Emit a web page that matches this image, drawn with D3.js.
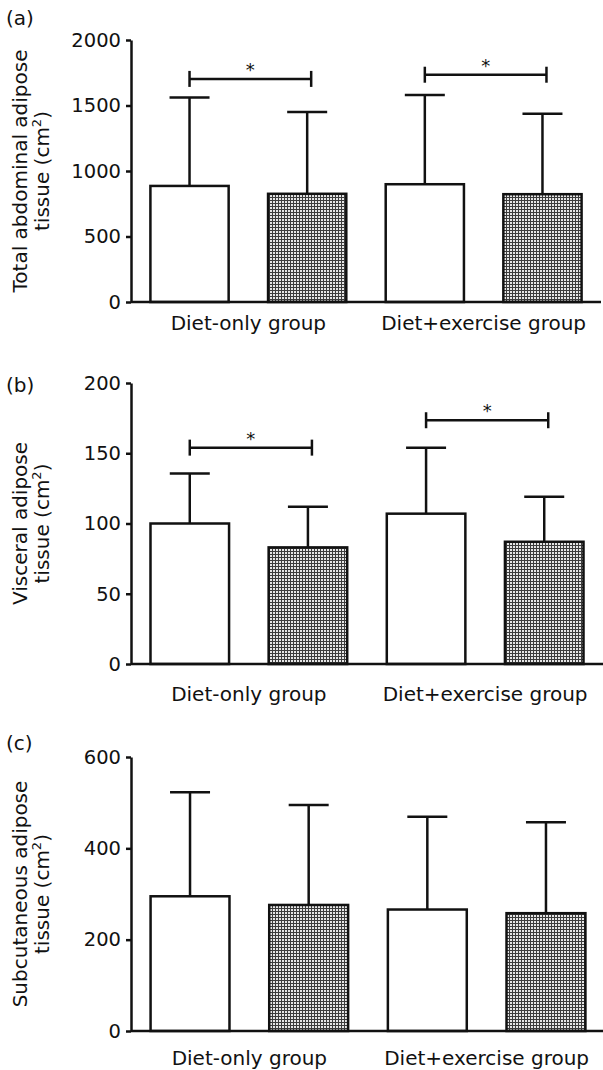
<!DOCTYPE html>
<html>
<head>
<meta charset="utf-8">
<script src="https://cdn.jsdelivr.net/npm/d3@7"></script>
<style>
  body { margin: 0; background: #fff; }
  text { font-family: "DejaVu Sans", sans-serif; fill: #111; }
</style>
</head>
<body>
<svg id="chart" width="603" height="1070"></svg>
<script>
// groups on the x axis, two bars in each (before / after)
var groups = ["Diet-only group", "Diet+exercise group"];
var series = ["Before", "After"];

// (a) total abdominal adipose tissue, cm2
var totalMean = [886, 826, 899, 823];
var totalSD = [676, 624, 681, 614];
var totalTicks = [0, 500, 1000, 1500, 2000];
var totalSig = [1703, 1735];

// (b) visceral adipose tissue, cm2
var visceralMean = [100, 83, 107, 87];
var visceralSD = [35.5, 29, 47, 32];
var visceralTicks = [0, 50, 100, 150, 200];
var visceralSig = [154, 173.5];

// (c) subcutaneous adipose tissue, cm2
var subcutMean = [295, 276, 266, 258];
var subcutSD = [228, 219, 203, 199];
var subcutTicks = [0, 200, 400, 600];
var subcutSig = [];

var svg = d3.select("#chart");

// dotted fill for the second bar of each group
var pat = svg.append("defs").append("pattern")
    .attr("id", "dots")
    .attr("patternUnits", "userSpaceOnUse")
    .attr("width", 3).attr("height", 3);
pat.append("rect").attr("width", 3).attr("height", 3).attr("fill", "#3c3c3c");
pat.append("rect").attr("width", 2).attr("height", 2).attr("fill", "#e6e6e6");

var panels = [
    {tag: "(a)", tagY: 25, label: ["Total abdominal adipose", "tissue (cm"], mean: totalMean, sd: totalSD,
     ticks: totalTicks, sig: totalSig, top: 40, bottom: 302, right: 601, labOff: 28},
    {tag: "(b)", tagY: 392, label: ["Visceral adipose", "tissue (cm"], mean: visceralMean, sd: visceralSD,
     ticks: visceralTicks, sig: visceralSig, top: 383, bottom: 664, right: 603, labOff: 37},
    {tag: "(c)", tagY: 750, label: ["Subcutaneous adipose", "tissue (cm"], mean: subcutMean, sd: subcutSD,
     ticks: subcutTicks, sig: subcutSig, top: 757, bottom: 1031, right: 605, labOff: 34}
];

var axisX = 131;
var lw = 2.5;

panels.forEach(function(p) {
    var keys = [];
    groups.forEach(function(g) { series.forEach(function(s) { keys.push(g + "|" + s); }); });

    var x = d3.scaleBand()
        .domain(keys)
        .range([axisX, p.right])
        .paddingInner(0.335)
        .paddingOuter(0.165);

    var y = d3.scaleLinear()
        .domain([0, d3.max(p.ticks)])
        .range([p.bottom, p.top]);

    var g = svg.append("g");

    // panel letter
    g.append("text").attr("x", 6).attr("y", p.tagY)
        .style("font-size", "20px").text(p.tag);

    // y axis label, two lines
    var cy = (p.top + p.bottom) / 2;
    g.append("text")
        .attr("transform", "translate(27," + cy + ") rotate(-90)")
        .attr("text-anchor", "middle")
        .style("font-size", "20px")
        .text(p.label[0]);
    var l2 = g.append("text")
        .attr("transform", "translate(49," + cy + ") rotate(-90)")
        .attr("text-anchor", "middle")
        .style("font-size", "20px");
    l2.append("tspan").text(p.label[1]);
    l2.append("tspan").attr("dy", -8).style("font-size", "13px").text("2");
    l2.append("tspan").attr("dy", 8).text(")");

    var data = keys.map(function(k, i) {
        return {key: k, series: k.split("|")[1], mean: p.mean[i], sd: p.sd[i]};
    });

    // bars
    g.selectAll(".bar").data(data).enter().append("rect")
        .attr("class", "bar")
        .attr("x", function(d) { return x(d.key); })
        .attr("y", function(d) { return y(d.mean); })
        .attr("width", x.bandwidth())
        .attr("height", function(d) { return y(0) - y(d.mean); })
        .attr("fill", function(d) { return d.series === series[0] ? "#fff" : "url(#dots)"; })
        .attr("stroke", "#111")
        .attr("stroke-width", lw);

    // error bars (upper only)
    var cx = function(d) { return x(d.key) + x.bandwidth() / 2; };
    g.selectAll(".err").data(data).enter().append("line")
        .attr("x1", cx).attr("x2", cx)
        .attr("y1", function(d) { return y(d.mean); })
        .attr("y2", function(d) { return y(d.mean + d.sd); })
        .attr("stroke", "#111").attr("stroke-width", lw);
    g.selectAll(".cap").data(data).enter().append("line")
        .attr("x1", function(d) { return cx(d) - 20; })
        .attr("x2", function(d) { return cx(d) + 20; })
        .attr("y1", function(d) { return y(d.mean + d.sd); })
        .attr("y2", function(d) { return y(d.mean + d.sd); })
        .attr("stroke", "#111").attr("stroke-width", lw);

    // significance brackets between the two bars of a group
    p.sig.forEach(function(v, gi) {
        var x1 = cx(data[gi * 2]), x2 = cx(data[gi * 2 + 1]) + 4, yy = y(v);
        var b = g.append("g").attr("stroke", "#111").attr("stroke-width", lw);
        b.append("line").attr("x1", x1).attr("x2", x2).attr("y1", yy).attr("y2", yy);
        b.append("line").attr("x1", x1).attr("x2", x1).attr("y1", yy - 8).attr("y2", yy + 8);
        b.append("line").attr("x1", x2).attr("x2", x2).attr("y1", yy - 8).attr("y2", yy + 8);
        g.append("text").attr("x", (x1 + x2) / 2).attr("y", yy - 3)
            .attr("text-anchor", "middle").style("font-size", "18px").text("*");
    });

    // y axis
    var ya = g.append("g")
        .attr("transform", "translate(" + axisX + ",0)")
        .call(d3.axisLeft(y).tickValues(p.ticks).tickSize(5).tickSizeOuter(0).tickPadding(5)
            .tickFormat(d3.format("d")));
    ya.select(".domain").attr("stroke", "#111").attr("stroke-width", lw);
    ya.selectAll(".tick line").attr("stroke", "#111").attr("stroke-width", lw);
    ya.selectAll(".tick text").style("font-size", "19.5px").style("font-family", "DejaVu Sans").attr("fill", "#111");

    // x axis line
    g.append("line")
        .attr("x1", axisX).attr("x2", p.right)
        .attr("y1", y(0)).attr("y2", y(0))
        .attr("stroke", "#111").attr("stroke-width", lw);

    // group labels
    g.selectAll(".glab").data(groups).enter().append("text")
        .attr("x", function(d) {
            return (x(d + "|" + series[0]) + x(d + "|" + series[1]) + x.bandwidth()) / 2;
        })
        .attr("y", p.bottom + p.labOff)
        .attr("text-anchor", "middle")
        .style("font-size", "20px")
        .text(function(d) { return d; });
});
</script>
</body>
</html>
